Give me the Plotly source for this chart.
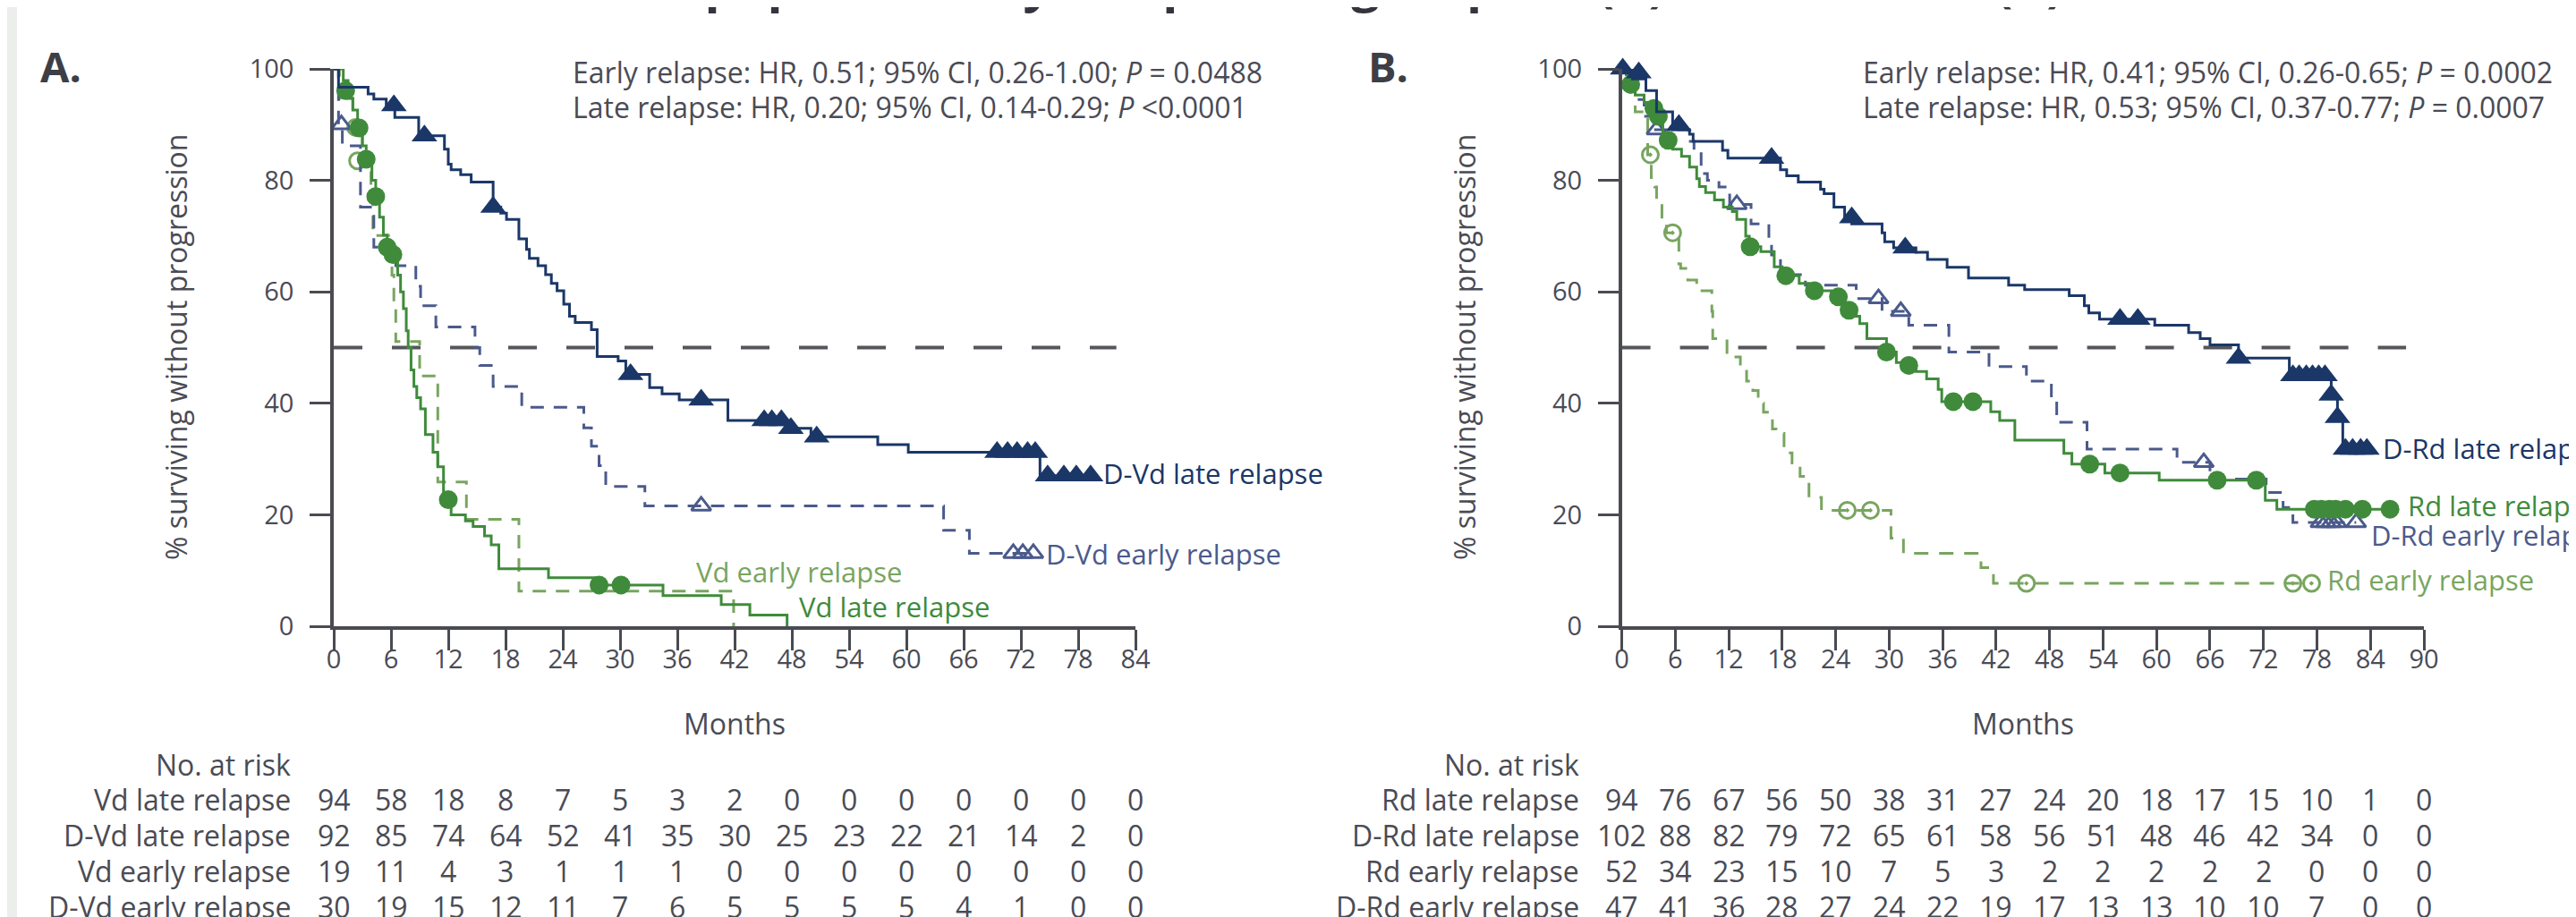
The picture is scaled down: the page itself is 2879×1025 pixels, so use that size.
import plotly.graph_objects as go

W, H = 2879, 1025
def fx(p): return p / W
def fy(p): return 1 - p / H

NAVY = "#1a3768"
SLATE = "#4b5a8c"
GREEN = "#3f8b3b"
LGREEN = "#78a55f"
GRAY = "#4a4b55"
AXIS = "#4a4b52"
FONT = "Open Sans"

# ---------------- Panel A (CASTOR) ----------------
months_A = [0, 6, 12, 18, 24, 30, 36, 42, 48, 54, 60, 66, 72, 78, 84]

dvd_late_t = [0, 0.5, 3.6, 4.2, 5.5, 6.4, 8.9, 11.6, 12.0, 12.3, 13.3, 14.4, 16.7, 17.5, 18.1, 19.4, 20.2, 20.5, 21.4, 22.2,
              22.8, 23.4, 24.1, 24.7, 25.3, 27.0, 27.6, 29.8, 30.6, 33.1, 34.4, 36.2, 41.3, 47.5, 50.0, 57.0, 60.2, 74.0, 79.3]
dvd_late_s = [100, 96.7, 95.5, 94.6, 93.4, 91.3, 88.0, 85.6, 82.9, 81.9, 81.0, 79.7, 75.2, 74.1, 73.0, 69.5, 67.6, 66.0, 64.7, 63.1,
              61.5, 60.2, 57.8, 55.6, 54.5, 53.2, 48.4, 47.6, 45.2, 42.8, 41.7, 40.6, 36.9, 35.5, 34.0, 32.6, 31.2, 27.0, 27.0]
dvd_late_ct = [6.3, 9.5, 16.7, 31.1, 38.5, 45.1, 45.9, 46.9, 47.9, 50.6, 69.5, 70.6, 71.6, 72.7, 73.5, 74.8, 76.5, 77.8, 79.3]
dvd_late_cs = [93.4, 88.0, 75.2, 45.2, 40.6, 36.9, 36.9, 36.9, 35.5, 34.0, 31.2, 31.2, 31.2, 31.2, 31.2, 27.0, 27.0, 27.0, 27.0]

vd_late_t = [0, 1.0, 1.5, 2.0, 2.5, 3.0, 3.4, 4.0, 4.4, 4.8, 5.2, 5.6, 6.2, 6.7, 7.0, 7.3, 7.6, 7.8, 8.1, 8.4,
             8.7, 9.1, 9.6, 10.4, 10.9, 11.5, 12.3, 13.8, 14.6, 15.8, 16.5, 17.3, 22.5, 27.4, 34.5, 40.6, 43.6, 47.5]
vd_late_s = [100, 97.9, 94.7, 92.6, 90.4, 86.2, 83.0, 80.0, 76.6, 73.4, 70.2, 68.0, 66.0, 63.0, 60.0, 57.0, 53.0, 50.0, 46.0, 43.0,
             41.0, 39.0, 34.4, 31.2, 28.6, 24.0, 20.0, 18.9, 17.9, 16.2, 14.6, 10.3, 8.7, 7.4, 5.5, 3.9, 2.0, 0]
vd_late_ct = [1.25, 2.65, 3.4, 4.4, 5.6, 6.2, 12.0, 27.8, 30.1]
vd_late_cs = [96.1, 89.4, 83.8, 77.1, 68.0, 66.7, 22.7, 7.4, 7.4]

vd_early_t = [0, 0.6, 2.0, 3.0, 3.9, 4.1, 6.1, 6.3, 6.5, 9.0, 10.9, 13.9, 19.4, 41.9]
vd_early_s = [100, 94.7, 89.5, 84.2, 77.0, 70.1, 63.0, 57.6, 51.1, 44.9, 25.9, 19.2, 6.3, 0]
vd_early_ct = [2.3, 2.5]
vd_early_cs = [89.5, 83.5]

dvd_early_t = [0, 0.5, 0.9, 2.8, 4.2, 6.5, 8.6, 9.1, 10.7, 14.8, 15.3, 16.7, 19.7, 26.2, 27.0, 27.8, 28.5, 32.6, 63.9, 66.6, 73.3]
dvd_early_s = [100, 90.0, 86.2, 75.2, 68.0, 64.7, 61.0, 57.5, 53.7, 50.0, 46.8, 43.0, 39.3, 35.6, 32.3, 28.8, 25.1, 21.6, 17.2, 13.1, 13.1]
dvd_early_ct = [0.8, 38.5, 71.2, 72.2, 73.3]
dvd_early_cs = [90.0, 21.6, 13.1, 13.1, 13.1]

risk_labels_A = ["Vd late relapse", "D-Vd late relapse", "Vd early relapse", "D-Vd early relapse"]
vd_late_risk = [94, 58, 18, 8, 7, 5, 3, 2, 0, 0, 0, 0, 0, 0, 0]
dvd_late_risk = [92, 85, 74, 64, 52, 41, 35, 30, 25, 23, 22, 21, 14, 2, 0]
vd_early_risk = [19, 11, 4, 3, 1, 1, 1, 0, 0, 0, 0, 0, 0, 0, 0]
dvd_early_risk = [30, 19, 15, 12, 11, 7, 6, 5, 5, 5, 5, 4, 1, 0, 0]

# ---------------- Panel B (POLLUX) ----------------
months_B = [0, 6, 12, 18, 24, 30, 36, 42, 48, 54, 60, 66, 72, 78, 84, 90]

drd_late_t = [0, 1.2, 2.7, 3.9, 5.7, 7.6, 8.0, 11.3, 11.9, 17.8, 18.5, 19.8, 22.3, 22.7, 23.8, 25.0, 25.8, 29.2, 29.5, 30.5,
              33.0, 34.3, 36.5, 38.9, 43.4, 45.2, 50.2, 51.9, 52.4, 53.6, 59.8, 63.6, 64.9, 66.0, 69.2, 74.9, 79.6, 80.3, 80.9, 83.6]
drd_late_s = [100, 98.2, 96.1, 92.3, 89.1, 88.3, 87.0, 85.4, 84.0, 81.9, 80.8, 79.7, 78.4, 77.6, 75.2, 73.3, 72.2, 70.6, 69.0, 67.9,
              67.1, 65.8, 64.4, 62.5, 61.2, 60.4, 59.3, 57.5, 56.2, 55.1, 54.0, 52.7, 51.6, 50.5, 48.1, 45.0, 41.5, 37.5, 31.8, 31.8]
drd_late_ct = [0.1, 1.9, 6.4, 16.8, 25.8, 31.8, 55.9, 57.9, 69.2, 75.3, 76.0, 76.8, 77.5, 78.2, 78.9, 79.6, 80.3, 81.2, 82.0, 82.9, 83.6]
drd_late_cs = [100, 99.3, 89.9, 84.0, 73.3, 67.9, 55.1, 55.1, 48.1, 45.0, 45.0, 45.0, 45.0, 45.0, 45.0, 41.5, 37.5, 31.8, 31.8, 31.8, 31.8]

rd_late_t = [0, 0.5, 1.5, 2.5, 3.0, 4.1, 4.6, 5.2, 5.7, 6.7, 7.6, 8.4, 8.7, 9.4, 10.4, 11.4, 12.4, 12.9, 13.9, 14.3,
             15.6, 17.1, 18.0, 19.9, 21.0, 23.5, 25.0, 26.3, 26.7, 27.5, 29.7, 30.8, 33.0, 34.2, 35.5, 35.9, 41.4, 42.4, 44.1, 49.6,
             50.5, 54.2, 60.3, 72.2, 73.5, 86.2]
rd_late_s = [100, 98.9, 95.3, 94.0, 92.9, 91.5, 88.5, 87.2, 85.6, 84.3, 82.4, 80.3, 78.9, 77.8, 76.5, 75.2, 74.4, 73.0, 70.0, 68.1,
             67.2, 64.5, 62.9, 61.5, 60.2, 59.1, 56.7, 55.6, 54.3, 51.6, 49.2, 47.3, 45.7, 44.4, 42.5, 40.3, 38.5, 36.9, 33.4, 31.0,
             29.1, 27.5, 26.2, 22.6, 21.0, 21.0]
rd_late_ct = [1.0, 3.6, 4.1, 5.2, 14.4, 18.4, 21.6, 24.3, 25.5, 29.7, 32.2, 37.2, 39.4, 52.5, 55.9, 66.8, 71.2,
              77.7, 78.5, 79.4, 80.1, 81.2, 83.1, 86.2]
rd_late_cs = [97.2, 92.9, 91.5, 87.2, 68.1, 62.9, 60.2, 59.1, 56.7, 49.2, 46.8, 40.3, 40.3, 29.1, 27.5, 26.2, 26.2,
              21.0, 21.0, 21.0, 21.0, 21.0, 21.0, 21.0]

rd_early_t = [0, 0.8, 1.5, 2.9, 3.3, 3.7, 3.9, 4.5, 5.0, 6.4, 6.6, 7.4, 8.4, 10.1, 10.2, 11.8, 13.3, 14.0, 14.7, 15.3,
              15.9, 16.9, 17.3, 18.2, 19.1, 20.0, 21.0, 22.4, 30.2, 31.6, 40.3, 41.7, 77.4]
rd_early_s = [100, 96.2, 92.3, 84.6, 80.5, 78.8, 75.5, 73.0, 70.6, 65.0, 64.2, 62.1, 60.2, 56.5, 51.6, 48.3, 46.0, 44.0, 42.3, 40.0,
              38.4, 35.4, 34.6, 31.1, 29.3, 26.9, 23.1, 20.8, 15.8, 13.1, 10.5, 7.7, 7.7]
rd_early_ct = [3.2, 5.7, 25.3, 27.9, 45.4, 75.3, 77.4]
rd_early_cs = [84.6, 70.6, 20.8, 20.8, 7.7, 7.7, 7.7]

drd_early_t = [0, 1.0, 1.5, 2.5, 3.5, 7.5, 8.1, 8.9, 9.6, 10.9, 12.1, 14.5, 16.5, 16.8, 17.8, 20.6, 26.3, 29.2, 32.2, 36.7,
               41.2, 45.4, 48.2, 48.8, 52.2, 62.3, 66.0, 72.3, 74.2, 75.3, 82.4]
drd_early_s = [100, 97.9, 94.5, 91.5, 89.1, 87.0, 85.5, 81.2, 80.0, 78.8, 75.7, 72.2, 69.5, 66.6, 63.1, 61.2, 58.8, 56.5, 54.0, 49.2,
               46.6, 44.0, 40.4, 36.6, 31.8, 29.4, 26.4, 24.0, 21.3, 18.6, 18.6]
drd_early_ct = [3.9, 12.9, 28.8, 31.3, 65.3, 78.4, 79.0, 79.6, 80.2, 82.4]
drd_early_cs = [89.1, 75.7, 58.8, 56.5, 29.4, 18.6, 18.6, 18.6, 18.6, 18.6]

risk_labels_B = ["Rd late relapse", "D-Rd late relapse", "Rd early relapse", "D-Rd early relapse"]
rd_late_risk = [94, 76, 67, 56, 50, 38, 31, 27, 24, 20, 18, 17, 15, 10, 1, 0]
drd_late_risk = [102, 88, 82, 79, 72, 65, 61, 58, 56, 51, 48, 46, 42, 34, 0, 0]
rd_early_risk = [52, 34, 23, 15, 10, 7, 5, 3, 2, 2, 2, 2, 2, 0, 0, 0]
drd_early_risk = [47, 41, 36, 28, 27, 24, 22, 19, 17, 13, 13, 10, 10, 7, 0, 0]

y_ticks = [0, 20, 40, 60, 80, 100]

hr_A = ["Early relapse: HR, 0.51; 95% CI, 0.26-1.00; <i>P</i> = 0.0488",
        "Late relapse: HR, 0.20; 95% CI, 0.14-0.29; <i>P</i> &lt;0.0001"]
hr_B = ["Early relapse: HR, 0.41; 95% CI, 0.26-0.65; <i>P</i> = 0.0002",
        "Late relapse: HR, 0.53; 95% CI, 0.37-0.77; <i>P</i> = 0.0007"]

# ---------------- Figure ----------------
fig = go.Figure()

def add_curve(xa, ya, t, s, ct, cs, color, dash, symbol, msize, filled):
    fig.add_trace(go.Scatter(x=t, y=s, mode="lines", xaxis=xa, yaxis=ya,
                             line=dict(color=color, width=3, dash=dash, shape="hv"),
                             showlegend=False, hoverinfo="skip"))
    fig.add_trace(go.Scatter(x=ct, y=cs, mode="markers", xaxis=xa, yaxis=ya, cliponaxis=False,
                             marker=dict(symbol=symbol, size=msize, color=color,
                                         line=dict(color=color, width=0 if filled else 3)),
                             showlegend=False, hoverinfo="skip"))

# Panel A curves
add_curve("x", "y", vd_early_t, vd_early_s, vd_early_ct, vd_early_cs, LGREEN, "15px,11px", "circle-open", 18, False)
add_curve("x", "y", dvd_early_t, dvd_early_s, dvd_early_ct, dvd_early_cs, SLATE, "15px,11px", "triangle-up-open", 19, False)
add_curve("x", "y", vd_late_t, vd_late_s, vd_late_ct, vd_late_cs, GREEN, "solid", "circle", 21, True)
add_curve("x", "y", dvd_late_t, dvd_late_s, dvd_late_ct, dvd_late_cs, NAVY, "solid", "triangle-up", 25, True)

# Panel B curves
add_curve("x2", "y2", rd_early_t, rd_early_s, rd_early_ct, rd_early_cs, LGREEN, "16px,12px", "circle-open-dot", 18, False)
add_curve("x2", "y2", drd_early_t, drd_early_s, drd_early_ct, drd_early_cs, SLATE, "15px,11px", "triangle-up-open", 19, False)
add_curve("x2", "y2", rd_late_t, rd_late_s, rd_late_ct, rd_late_cs, GREEN, "solid", "circle", 21, True)
add_curve("x2", "y2", drd_late_t, drd_late_s, drd_late_ct, drd_late_cs, NAVY, "solid", "triangle-up", 25, True)

axis_style = dict(showline=True, linecolor=AXIS, linewidth=3.5, ticks="outside", ticklen=23, tickwidth=3,
                  tickcolor=AXIS, showgrid=False, zeroline=False,
                  tickfont=dict(family=FONT, size=29, color=GRAY))

fig.update_layout(
    width=W, height=H,
    margin=dict(l=0, r=0, t=0, b=0, autoexpand=False),
    paper_bgcolor="white", plot_bgcolor="white",
    font=dict(family=FONT, color=GRAY),
    xaxis=dict(domain=[fx(365), fx(1261)], range=[0, 84], tickvals=months_A, anchor="y",
               ticklabelstandoff=-15, **axis_style),
    yaxis=dict(domain=[fy(692), fy(69)], range=[0, 100], tickvals=y_ticks, anchor="x",
               ticklabelstandoff=12, **axis_style),
    xaxis2=dict(domain=[fx(1804.6), fx(2701)], range=[0, 90], tickvals=months_B, anchor="y2",
                ticklabelstandoff=-15, **axis_style),
    yaxis2=dict(domain=[fy(692), fy(69)], range=[0, 100], tickvals=y_ticks, anchor="x2",
                ticklabelstandoff=12, **axis_style),
)

shapes = [
    dict(type="rect", xref="paper", yref="paper", x0=0, x1=fx(11), y0=0, y1=1,
         fillcolor="#eceeec", line=dict(width=0), layer="below"),
    dict(type="line", xref="x", yref="y", x0=0, x1=82, y0=50, y1=50,
         line=dict(color="#55565c", width=4, dash="32px,33px"), layer="below"),
    dict(type="line", xref="x2", yref="y2", x0=0, x1=88, y0=50, y1=50,
         line=dict(color="#55565c", width=4, dash="32px,33px"), layer="below"),
]
fig.update_layout(shapes=shapes)

ann = []
def txt(x, y, text, size=32, color=GRAY, xanchor="left", yanchor="middle", xref="paper", **kw):
    ann.append(dict(x=x, y=y, xref=xref, yref="paper", text=text, showarrow=False,
                    xanchor=xanchor, yanchor=yanchor,
                    font=dict(family=FONT, size=size, color=color), **kw))

# Title (cut off at the top edge of the image, as in the reference)
txt(fx(66), fy(12), "<b>PFS in the intent-to-treat population by relapse subgroups in (A) CASTOR and (B) POLLUX</b>",
    size=56, color="#33343d", yanchor="bottom")

# Panel letters
txt(fx(35), fy(66), "<b>A.</b>", size=47, color="#3d3e46")
txt(fx(1519), fy(66), "<b>B.</b>", size=47, color="#3d3e46")

# HR text
for i, line in enumerate(hr_A):
    txt(fx(630), fy(72 + 40 * i), line, size=32)
for i, line in enumerate(hr_B):
    txt(fx(2072), fy(72 + 40 * i), line, size=32)

# Axis titles
for cx in (188, 188 + 1440):
    txt(fx(cx), fy(380), "% surviving without progression", size=32, xanchor="center", textangle=-90)
txt(fx(813), fy(800), "Months", size=32, xanchor="center")
txt(fx(2253), fy(800), "Months", size=32, xanchor="center")

# Curve labels
txt(fx(1223), fy(521), "D-Vd late relapse", size=31, color=NAVY)
txt(fx(1159), fy(611), "D-Vd early relapse", size=31, color=SLATE)
txt(fx(768), fy(631), "Vd early relapse", size=31, color=LGREEN)
txt(fx(883), fy(670), "Vd late relapse", size=31, color=GREEN)
txt(fx(2653), fy(493), "D-Rd late relapse", size=31, color=NAVY)
txt(fx(2681), fy(557), "Rd late relapse", size=31, color=GREEN)
txt(fx(2640), fy(590), "D-Rd early relapse", size=31, color=SLATE)
txt(fx(2591), fy(640), "Rd early relapse", size=31, color=LGREEN)

# Number at risk tables
row_y = [885, 925, 965, 1005]
txt(fx(319), fy(846), "No. at risk", size=32, xanchor="right")
txt(fx(1759), fy(846), "No. at risk", size=32, xanchor="right")
for lab, vals, yy in zip(risk_labels_A, [vd_late_risk, dvd_late_risk, vd_early_risk, dvd_early_risk], row_y):
    txt(fx(319), fy(yy), lab, size=32, xanchor="right")
    for m, v in zip(months_A, vals):
        txt(m, fy(yy), str(v), size=32, xanchor="center", xref="x")
for lab, vals, yy in zip(risk_labels_B, [rd_late_risk, drd_late_risk, rd_early_risk, drd_early_risk], row_y):
    txt(fx(1759), fy(yy), lab, size=32, xanchor="right")
    for m, v in zip(months_B, vals):
        txt(m, fy(yy), str(v), size=32, xanchor="center", xref="x2")

fig.update_layout(annotations=ann)
fig.write_html("out.html")
